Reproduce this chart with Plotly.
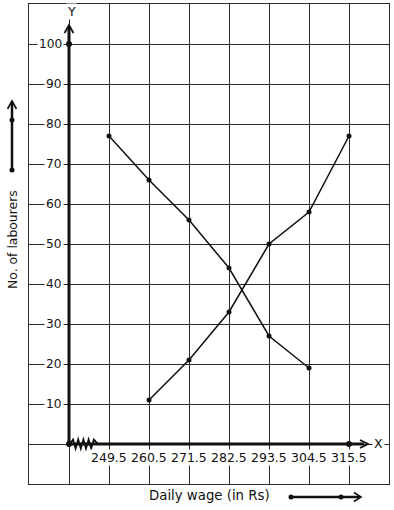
import plotly.graph_objects as go

# ---- data ----
wage_ticks = [249.5, 260.5, 271.5, 282.5, 293.5, 304.5, 315.5]
wage_tick_labels = ["249.5", "260.5", "271.5", "282.5", "293.5", "304.5", "315.5"]
labour_ticks = [10, 20, 30, 40, 50, 60, 70, 80, 90, 100]

less_than_x = [260.5, 271.5, 282.5, 293.5, 304.5, 315.5]
less_than_y = [11, 21, 33, 50, 58, 77]
more_than_x = [249.5, 260.5, 271.5, 282.5, 293.5, 304.5]
more_than_y = [77, 66, 56, 44, 27, 19]

X_RANGE = [227.5, 326.5]
Y_RANGE = [-10, 110]

# ---- layout geometry (pixels) ----
W, H = 394, 510
L, T, PW, PH = 29, 4, 360, 480
FONT = "DejaVu Sans"
INK = "#111111"
GRID = "#2a2a2a"


def px(x):
    return (x - L) / PW


def py(y):
    return (T + PH - y) / PH


def path(points, close=False):
    s = "M " + " L ".join(f"{px(x):.5f},{py(y):.5f}" for x, y in points)
    return s + (" Z" if close else "")


fig = go.Figure()

for xs, ys in [(less_than_x, less_than_y), (more_than_x, more_than_y)]:
    fig.add_trace(go.Scatter(
        x=xs, y=ys, mode="lines+markers",
        line=dict(color=INK, width=1.5),
        marker=dict(color=INK, size=5),
        showlegend=False, hoverinfo="skip",
    ))

shapes = []


def seg(points, width=1.5):
    shapes.append(dict(type="path", path=path(points), xref="paper", yref="paper",
                       line=dict(color=INK, width=width), layer="above"))


def dot(x, y, r=2.5):
    shapes.append(dict(type="circle", xref="paper", yref="paper",
                       x0=px(x - r), x1=px(x + r), y0=py(y + r), y1=py(y - r),
                       fillcolor=INK, line=dict(color=INK, width=0), layer="above"))


# main axes (thick) with chevron arrowheads
seg([(69, 444), (364, 444)], 3)
seg([(360, 440), (368, 444), (360, 448)], 1.8)
seg([(69, 444), (69, 27)], 3)
seg([(64.5, 33), (69, 25), (73.5, 33)], 1.8)
dot(69, 444, 3)
dot(69, 44, 3)
dot(349, 444, 3)

# axis break zigzag
zz = [(70, 444)]
xz = 73
up = True
while xz < 96:
    zz.append((xz, 439.5 if up else 448.5))
    up = not up
    xz += 2.6
zz.append((98, 444))
seg(zz, 1.8)

# direction arrows beside axis titles
seg([(12, 171), (12, 102)], 2.5)
seg([(7.5, 109), (12, 101), (16.5, 109)], 1.6)
dot(12, 120, 2.5)
dot(12, 170, 2.5)
seg([(291, 497), (360, 497)], 2.5)
seg([(354, 492.5), (361, 497), (354, 501.5)], 1.6)
dot(291, 497, 2.5)
dot(341, 497, 2.5)

annotations = []
for v, lab in zip(wage_ticks, wage_tick_labels):
    annotations.append(dict(x=v, y=-3.25, xref="x", yref="y", text=lab, showarrow=False,
                            xanchor="center", yanchor="middle", bgcolor="white", borderpad=0,
                            font=dict(family=FONT, size=12.5, color=INK)))
for v in labour_ticks:
    annotations.append(dict(x=px(64), y=v, xref="paper", yref="y", text=str(v), showarrow=False,
                            xanchor="right", yanchor="middle", bgcolor="white", borderpad=1,
                            font=dict(family=FONT, size=12.2, color=INK)))
annotations.append(dict(x=px(378.5), y=py(443.5), xref="paper", yref="paper", text="X",
                        showarrow=False, xanchor="center", yanchor="middle", bgcolor="white",
                        borderpad=1, font=dict(family=FONT, size=12.5, color=INK)))
annotations.append(dict(x=px(71), y=py(11.5), xref="paper", yref="paper", text="Y",
                        showarrow=False, xanchor="center", yanchor="middle", bgcolor="white",
                        borderpad=0, font=dict(family=FONT, size=12.5, color=INK)))
annotations.append(dict(x=px(209), y=py(496), xref="paper", yref="paper",
                        text="Daily wage (in Rs)", showarrow=False, xanchor="center",
                        yanchor="middle", font=dict(family=FONT, size=13.3, color=INK)))
annotations.append(dict(x=px(12), y=py(240), xref="paper", yref="paper",
                        text="No. of labourers", showarrow=False, textangle=-90,
                        xanchor="center", yanchor="middle",
                        font=dict(family=FONT, size=12.4, color=INK)))

fig.update_layout(
    width=W, height=H, autosize=False,
    margin=dict(l=L, r=W - L - PW, t=T, b=H - T - PH, pad=0),
    paper_bgcolor="white", plot_bgcolor="white",
    shapes=shapes, annotations=annotations,
    xaxis=dict(range=X_RANGE, tick0=X_RANGE[0], dtick=11, showgrid=True,
               gridcolor=GRID, gridwidth=1, zeroline=False, showticklabels=False,
               ticks="", showline=True, mirror=True, linecolor=GRID, linewidth=1,
               fixedrange=True),
    yaxis=dict(range=Y_RANGE, tick0=Y_RANGE[0], dtick=10, showgrid=True,
               gridcolor=GRID, gridwidth=1, zeroline=False, showticklabels=False,
               ticks="", showline=True, mirror=True, linecolor=GRID, linewidth=1,
               fixedrange=True),
)

fig.write_html(
    "out.html",
    config={"displayModeBar": False},
    post_script="document.body.style.margin='0';document.body.style.overflow='hidden';",
)
